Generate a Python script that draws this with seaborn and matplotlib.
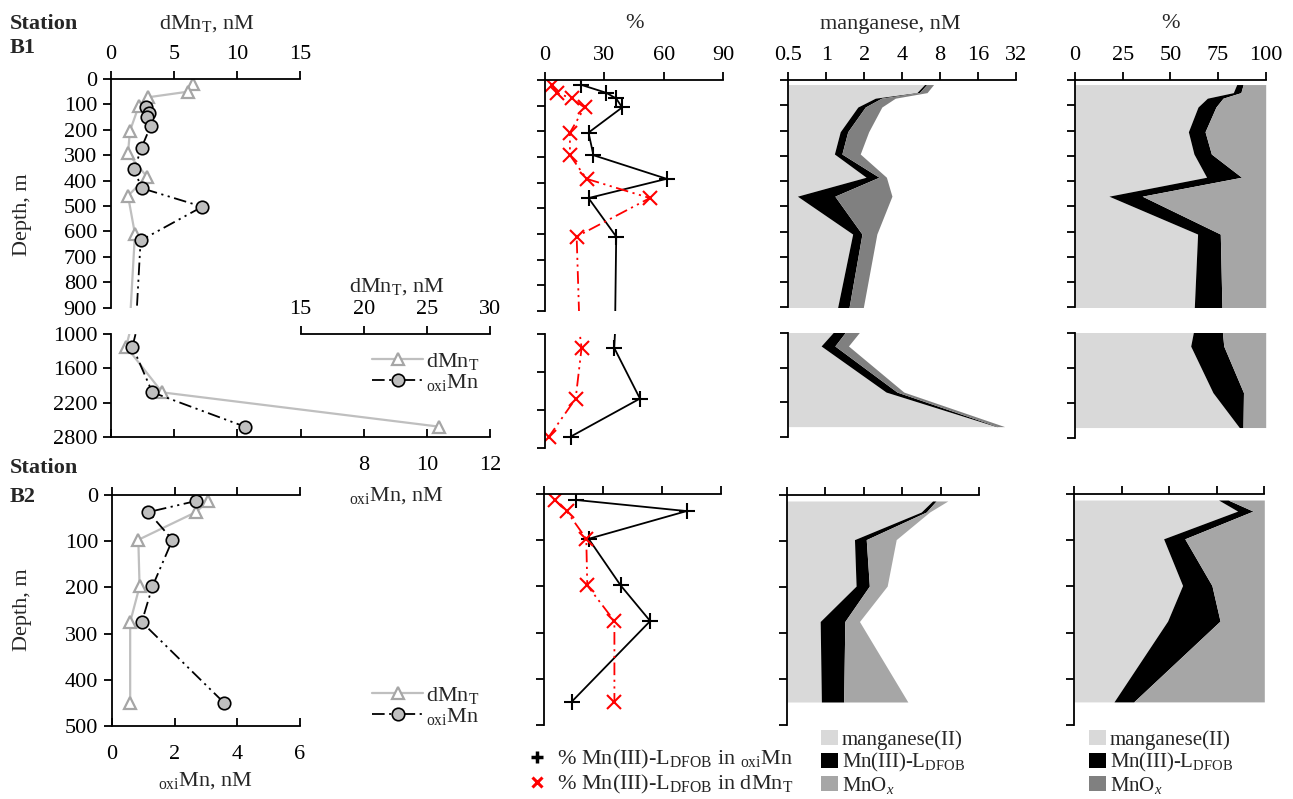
import numpy as np
import pandas as pd
import seaborn as sns
import matplotlib
matplotlib.use('Agg')
import matplotlib.pyplot as plt
from matplotlib.lines import Line2D
from matplotlib.patches import Patch
from matplotlib.ticker import NullLocator

# ---------------- data ----------------
# Station B1 concentration profile
b1_depth = [18, 50, 72, 107, 205, 293, 385, 460, 610, 1220, 2020, 2620]
b1_dmnt = [6.5, 6.1, 2.95, 2.2, 1.5, 1.35, 2.85, 1.35, 1.9, 1.2, 4.05, 26.0]
b1_oxi_depth = [109, 135, 151, 185, 270, 356, 430, 503, 636, 1220, 2020, 2620]
b1_oxi = [1.10, 1.20, 1.13, 1.26, 0.97, 0.74, 0.97, 2.90, 0.94, 0.68, 1.31, 4.24]
# Station B2 concentration profile
b2_depth = [13, 37, 97, 198, 275, 450]
b2_dmnt = [7.66, 6.7, 2.1, 2.2, 1.45, 1.45]
b2_oxi = [2.68, 1.16, 1.93, 1.29, 0.95, 3.58]
# % Mn(III)-L_DFOB
b1_pct_oxi = [18, 31, 36, 39, 22, 24.5, 61.5, 22, 36, 35, 48, 13]
b1_pct_dmnt = [3.5, 6, 13.5, 20, 12.6, 12.6, 21, 53, 16, 18.5, 15.5, 2]
b2_pct_oxi = [16.5, 72.5, 22.7, 39, 54, 14]
b2_pct_dmnt = [5.5, 11.5, 21.5, 22, 35.8, 35.8]
# manganese speciation, nM
b1_mn2 = [6.02, 5.23, 2.45, 1.78, 1.29, 1.16, 2.07, 0.59, 1.62, 0.91, 2.98, 22.4]
b1_mn3 = [0.24, 0.25, 0.29, 0.26, 0.19, 0.17, 0.55, 0.58, 0.30, 0.26, 0.66, 0.5]
b1_mnox = [0.84, 0.82, 0.79, 0.72, 0.69, 0.53, 0.38, 2.15, 0.60, 0.33, 0.48, 3.1]
b2_mn2 = [6.92, 5.64, 1.69, 1.74, 0.91, 0.93]
b2_mn3 = [0.46, 0.53, 0.40, 0.47, 0.51, 0.46]
b2_mnox = [1.73, 0.39, 1.50, 0.84, 0.43, 3.04]

# ---------------- style ----------------
sns.set_theme(style='white')
FS = 16
LFS = 15
plt.rcParams['font.family'] = ['Liberation Serif', 'DejaVu Serif']
plt.rcParams['mathtext.fontset'] = 'custom'
plt.rcParams['mathtext.rm'] = 'Liberation Serif'
plt.rcParams['mathtext.it'] = 'Liberation Serif:italic'
plt.rcParams['mathtext.bf'] = 'Liberation Serif:bold'
plt.rcParams['font.size'] = FS
plt.rcParams['axes.facecolor'] = 'none'

LIGHT = '#d9d9d9'
MID = '#a6a6a6'
DARK = '#808080'
GRAY_LINE = '#bfbfbf'
TRI_EDGE = '#a6a6a6'
CIRC_FACE = '#bfbfbf'
DASH = (0, (7, 2.5, 1.2, 2.5, 1.2, 2.5))
LW = 1.3

W, H = 1293, 799
fig = plt.figure(figsize=(W / 100, H / 100), dpi=100)


def axp(x0, x1, y0, y1):
    return fig.add_axes([x0 / W, 1 - y1 / H, (x1 - x0) / W, (y1 - y0) / H])


def set_spines(ax, **vis):
    for k in ['left', 'right', 'top', 'bottom']:
        ax.spines[k].set_visible(vis.get(k, False))
        ax.spines[k].set_color('black')
        ax.spines[k].set_linewidth(LW)


def depth_axis(ax, lo, hi, ticks, labels):
    ax.set_ylim(hi, lo)
    ax.set_yticks(ticks)
    ax.set_yticklabels([str(t) for t in ticks])
    ax.tick_params(axis='y', left=True, right=False, direction='out', length=6,
                   width=LW, pad=4, labelsize=FS, labelleft=labels, colors='black')
    ax.set_ylabel('')


def x_axis(ax, lim, ticks, labels, where='top', log=False):
    if log:
        ax.set_xscale('log', base=2)
    ax.set_xlim(*lim)
    ax.set_xticks(ticks)
    if log:
        ax.xaxis.set_minor_locator(NullLocator())
    if labels:
        ax.set_xticklabels(labels)
    if where == 'top':
        ax.xaxis.tick_top()
        ax.tick_params(axis='x', top=True, bottom=False, labeltop=bool(labels),
                       labelbottom=False, direction='out', length=6, width=LW,
                       pad=5, labelsize=FS, colors='black')
    elif where == 'bottom':
        ax.xaxis.tick_bottom()
        ax.tick_params(axis='x', top=False, bottom=True, labeltop=False,
                       labelbottom=bool(labels), direction='in', length=6, width=LW,
                       pad=14, labelsize=FS, colors='black')
    else:
        ax.tick_params(axis='x', top=False, bottom=False, labeltop=False, labelbottom=False)
    ax.set_xlabel('')


def draw_dmnt(ax, x, y):
    sns.lineplot(x=x, y=y, ax=ax, sort=False, estimator=None, color=GRAY_LINE, lw=1.6,
                 marker='^', markersize=9, markerfacecolor='white',
                 markeredgecolor=TRI_EDGE, markeredgewidth=1.6)


def draw_oxi(ax, x, y):
    sns.lineplot(x=x, y=y, ax=ax, sort=False, estimator=None, color='black', lw=1.3,
                 linestyle=DASH, marker='o', markersize=9, markerfacecolor=CIRC_FACE,
                 markeredgecolor='black', markeredgewidth=1.2)


def draw_pct(ax, d, p_oxi, p_dmn):
    sns.lineplot(x=p_oxi, y=d, ax=ax, sort=False, estimator=None, color='black', lw=1.3,
                 marker='+', markersize=11, markeredgewidth=1.5, markeredgecolor='black')
    sns.lineplot(x=p_dmn, y=d, ax=ax, sort=False, estimator=None, color='red', lw=1.3,
                 linestyle=DASH, marker='x', markersize=10, markeredgewidth=1.5,
                 markeredgecolor='red')


def stack_conc(ax, d, mn2, mn3, mnox, oxcol, left):
    c1 = np.array(mn2)
    c2 = c1 + np.array(mn3)
    c3 = c2 + np.array(mnox)
    ax.fill_betweenx(d, left, c1, color=LIGHT, lw=0)
    ax.fill_betweenx(d, c1, c2, color='black', lw=0)
    ax.fill_betweenx(d, c2, c3, color=oxcol, lw=0)


def stack_pct(ax, d, mn2, mn3, mnox):
    tot = np.array(mn2) + np.array(mn3) + np.array(mnox)
    p1 = np.array(mn2) / tot * 100
    p2 = (np.array(mn2) + np.array(mn3)) / tot * 100
    ax.fill_betweenx(d, 0, p1, color=LIGHT, lw=0)
    ax.fill_betweenx(d, p1, p2, color='black', lw=0)
    ax.fill_betweenx(d, p2, 100, color=MID, lw=0)


UP_T = list(range(0, 1000, 100))
LO_T = [1000, 1600, 2200, 2800]
B2_T = list(range(0, 600, 100))

# ======== column 1: concentration profiles ========
# B1 upper
a = axp(111, 300, 79, 307.5)
t = a.twiny()
draw_dmnt(a, b1_dmnt, b1_depth)
draw_oxi(t, b1_oxi, b1_oxi_depth)
depth_axis(a, 0, 900, UP_T, True)
x_axis(a, (0, 15), [0, 5, 10, 15], ['0', '5', '10', '15'], 'top')
x_axis(t, (0, 6), [], None, 'none')
t.xaxis.set_visible(False)
set_spines(a, left=True, top=True)
set_spines(t)

# B1 lower
a = axp(111, 490, 334, 437)
t = a.twiny()
draw_dmnt(a, b1_dmnt, b1_depth)
draw_oxi(t, b1_oxi, b1_oxi_depth)
depth_axis(a, 1000, 2800, LO_T, True)
x_axis(a, (0, 30), [15, 20, 25, 30], ['15', '20', '25', '30'], 'top')
x_axis(t, (0, 12), [0, 2, 4, 6, 8, 10, 12], ['', '', '', '', '8', '10', '12'], 'bottom')
set_spines(a, left=True, top=True)
a.spines['top'].set_bounds(15, 30)
set_spines(t, bottom=True)
leg_h = [Line2D([], [], color=GRAY_LINE, lw=1.6, marker='^', ms=9, mfc='white',
                mec=TRI_EDGE, mew=1.6),
         Line2D([], [], color='black', lw=1.3, ls=DASH, marker='o', ms=9,
                mfc=CIRC_FACE, mec='black', mew=1.2)]
leg_l = [r'dMn$_{\mathrm{T}}$', r'$_{\mathrm{oxi}}$Mn']
fig.legend(leg_h, leg_l, loc='upper left', bbox_to_anchor=(372 / W, 1 - 351 / H),
           frameon=False, fontsize=FS, handlelength=2.3, handletextpad=0.15,
           labelspacing=0.0, borderpad=0, borderaxespad=0)

# B2 profile
a = axp(112, 300, 495, 726)
t = a.twiny()
draw_dmnt(a, b2_dmnt, b2_depth)
draw_oxi(t, b2_oxi, b2_depth)
depth_axis(a, 0, 500, B2_T, True)
x_axis(a, (0, 15), [0, 5, 10, 15], None, 'top')
x_axis(t, (0, 6), [0, 2, 4, 6], ['0', '2', '4', '6'], 'bottom')
set_spines(a, left=True, top=True)
set_spines(t, bottom=True)
fig.legend(leg_h, leg_l, loc='upper left', bbox_to_anchor=(372 / W, 1 - 685 / H),
           frameon=False, fontsize=FS, handlelength=2.3, handletextpad=0.15,
           labelspacing=0.0, borderpad=0, borderaxespad=0)

# ======== column 2: % Mn(III)-L_DFOB ========
a = axp(545, 723, 80, 311)
draw_pct(a, b1_depth, b1_pct_oxi, b1_pct_dmnt)
depth_axis(a, 0, 900, UP_T, False)
x_axis(a, (0, 90), [0, 30, 60, 90], ['0', '30', '60', '90'], 'top')
set_spines(a, left=True, top=True)

a = axp(545, 723, 334, 448)
draw_pct(a, b1_depth, b1_pct_oxi, b1_pct_dmnt)
depth_axis(a, 1000, 2800, LO_T, False)
x_axis(a, (0, 90), [], None, 'none')
set_spines(a, left=True)

a = axp(544, 721, 494, 725)
draw_pct(a, b2_depth, b2_pct_oxi, b2_pct_dmnt)
depth_axis(a, 0, 500, B2_T, False)
x_axis(a, (0, 90), [0, 30, 60, 90], None, 'top')
set_spines(a, left=True, top=True)

pct_h = [Line2D([], [], ls='none', marker='+', ms=9, mew=2.5, color='black'),
         Line2D([], [], ls='none', marker='x', ms=7, mew=2.2, color='red')]
pct_l = [r'% Mn(III)-L$_{\mathrm{DFOB}}$ in $_{\mathrm{oxi}}$Mn',
         r'% Mn(III)-L$_{\mathrm{DFOB}}$ in dMn$_{\mathrm{T}}$']
fig.legend(pct_h, pct_l, loc='upper left', bbox_to_anchor=(526 / W, 1 - 748 / H),
           frameon=False, fontsize=FS, handlelength=1.0, handletextpad=0.4,
           labelspacing=0.1, borderpad=0, borderaxespad=0)

# ======== column 3: manganese speciation (log2) ========
LOG_T = [0.5, 1, 2, 4, 8, 16, 32]
a = axp(788.3, 1016, 80, 307.3)
stack_conc(a, b1_depth, b1_mn2, b1_mn3, b1_mnox, DARK, 0.5)
depth_axis(a, 0, 900, UP_T, False)
x_axis(a, (0.5, 32), LOG_T, ['0.5', '1', '2', '4', '8', '16', '32'], 'top', log=True)
set_spines(a, left=True, top=True)

a = axp(788.3, 1016, 333.3, 437)
stack_conc(a, b1_depth, b1_mn2, b1_mn3, b1_mnox, DARK, 0.5)
depth_axis(a, 1000, 2800, LO_T, False)
x_axis(a, (0.5, 32), [], None, 'none', log=True)
set_spines(a, left=True)

a = axp(787, 979, 495, 725)
stack_conc(a, b2_depth, b2_mn2, b2_mn3, b2_mnox, MID, 0.5)
depth_axis(a, 0, 500, B2_T, False)
x_axis(a, (0.5, 16), LOG_T[:-1], None, 'top', log=True)
set_spines(a, left=True, top=True)

sp_l = ['manganese(II)', r'Mn(III)-L$_{\mathrm{DFOB}}$', r'MnO$_{x}$']
fig.legend([Patch(fc=LIGHT, ec='none'), Patch(fc='black', ec='none'), Patch(fc=MID, ec='none')],
           sp_l, loc='upper left', bbox_to_anchor=(821 / W, 1 - 730 / H), frameon=False,
           fontsize=LFS, handlelength=0.8, handleheight=0.75, handletextpad=0.2,
           labelspacing=0.05, borderpad=0, borderaxespad=0)

# ======== column 4: speciation percentages ========
PCT_T = [0, 25, 50, 75, 100]
a = axp(1075, 1265.7, 80, 307.3)
stack_pct(a, b1_depth, b1_mn2, b1_mn3, b1_mnox)
depth_axis(a, 0, 900, UP_T, False)
x_axis(a, (0, 100), PCT_T, [str(v) for v in PCT_T], 'top')
set_spines(a, left=True, top=True)

a = axp(1075, 1265.7, 333.3, 438)
stack_pct(a, b1_depth, b1_mn2, b1_mn3, b1_mnox)
depth_axis(a, 1000, 2800, LO_T, False)
x_axis(a, (0, 100), [], None, 'none')
set_spines(a, left=True)

a = axp(1074, 1264.3, 494, 725)
stack_pct(a, b2_depth, b2_mn2, b2_mn3, b2_mnox)
depth_axis(a, 0, 500, B2_T, False)
x_axis(a, (0, 100), PCT_T, None, 'top')
set_spines(a, left=True, top=True)

fig.legend([Patch(fc=LIGHT, ec='none'), Patch(fc='black', ec='none'), Patch(fc=DARK, ec='none')],
           sp_l, loc='upper left', bbox_to_anchor=(1089 / W, 1 - 730 / H), frameon=False,
           fontsize=LFS, handlelength=0.8, handleheight=0.75, handletextpad=0.2,
           labelspacing=0.05, borderpad=0, borderaxespad=0)

# ======== free texts ========
def ftext(x, y, s, **kw):
    fig.text(x / W, 1 - y / H, s, ha=kw.pop('ha', 'center'), va='center', fontsize=FS, **kw)

ftext(10, 24, 'Station', ha='left', fontweight='bold')
ftext(10, 48, 'B1', ha='left', fontweight='bold')
ftext(10, 468, 'Station', ha='left', fontweight='bold')
ftext(10, 497, 'B2', ha='left', fontweight='bold')
ftext(207, 24, r'dMn$_{\mathrm{T}}$, nM')
ftext(397, 287, r'dMn$_{\mathrm{T}}$, nM')
ftext(396, 496, r'$_{\mathrm{oxi}}$Mn, nM')
ftext(205, 781, r'$_{\mathrm{oxi}}$Mn, nM')
ftext(22, 215, 'Depth, m', rotation=90)
ftext(22, 610, 'Depth, m', rotation=90)
ftext(634, 24, '%')
ftext(890, 24, 'manganese, nM')
ftext(1171, 24, '%')

fig.savefig('out.png', dpi=100)
